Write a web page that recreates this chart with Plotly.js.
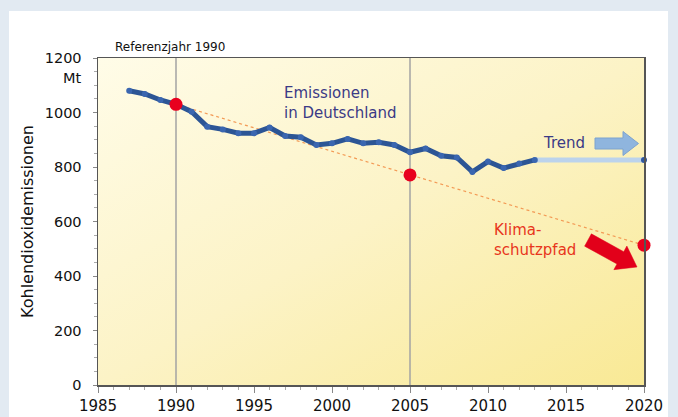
<!DOCTYPE html>
<html>
<head>
<meta charset="utf-8">
<script src="https://cdn.plot.ly/plotly-3.0.1.min.js"></script>
<style>
  html, body { margin: 0; padding: 0; background: #e2eaf2; width: 678px; height: 417px; overflow: hidden; }
  #chart { position: absolute; left: 9px; top: 11px; width: 659px; height: 406px; background: #ffffff; }
</style>
</head>
<body>
<div id="chart"></div>
<script>
// ---- data ----
const years = [1987,1988,1989,1990,1991,1992,1993,1994,1995,1996,1997,1998,1999,2000,2001,2002,2003,2004,2005,2006,2007,2008,2009,2010,2011,2012,2013];
const emissions = [1080,1068,1046,1030,1003,948,938,924,924,945,914,909,881,887,903,887,891,881,854,868,841,835,782,820,796,813,826];
const trendYears = [2013, 2020];
const trendValues = [826, 826];
const pathYears = [1990, 2005, 2020];
const pathValues = [1030, 771, 513];
const refYears = [1990, 2005];
const xTicks = [1985,1990,1995,2000,2005,2010,2015,2020];
const yTicks = [0,200,400,600,800,1000,1200];

// ---- layout geometry (plot area in div pixels) ----
const W = 659, H = 406;
const M = {l: 89, r: 24, t: 47, b: 32};
const PW = W - M.l - M.r, PH = H - M.t - M.b;
const FONT = "DejaVu Sans";
// convert page pixel -> paper coords
const px = x => (x - 9 - M.l) / PW;
const py = y => 1 - (y - 11 - M.t) / PH;

function poly(pts) {
  return 'M' + pts.map(p => px(p[0]) + ',' + py(p[1])).join('L') + 'Z';
}
// Trend arrow (horizontal block arrow)
const trendArrow = poly([[595,138],[623,138],[623,131.5],[638.5,143.5],[623,155.5],[623,149],[595,149]]);
// Red arrow (rotated block arrow)
function blockArrow(x0, y0, x1, y1, bw, hw, hl) {
  const dx = x1 - x0, dy = y1 - y0, L = Math.hypot(dx, dy);
  const ux = dx / L, uy = dy / L, nx = -uy, ny = ux;
  const P = (a, b) => [x0 + ux * a + nx * b, y0 + uy * a + ny * b];
  return poly([P(0,-bw),P(L-hl,-bw),P(L-hl,-hw),P(L,0),P(L-hl,hw),P(L-hl,bw),P(0,bw)]);
}
const redArrow = blockArrow(588, 240, 637, 267, 7, 13.5, 19);

const gradSvg = "<svg xmlns='http://www.w3.org/2000/svg' width='200' height='200' viewBox='0 0 200 200' preserveAspectRatio='none'>" +
  "<defs><linearGradient id='g' x1='0' y1='0' x2='1' y2='1'>" +
  "<stop offset='0' stop-color='#fffce8'/><stop offset='0.5' stop-color='#fcf3c6'/><stop offset='1' stop-color='#f9e995'/>" +
  "</linearGradient></defs><rect width='200' height='200' fill='url(#g)'/></svg>";
const gradUri = 'data:image/svg+xml;charset=utf-8,' + encodeURIComponent(gradSvg);

const traces = [
  { // Klimaschutzpfad dotted line
    x: pathYears, y: pathValues, mode: 'lines', type: 'scatter',
    line: {color: '#f39a55', width: 1.2, dash: 'dot'}, hoverinfo: 'skip', cliponaxis: false
  },
  { // Trend line
    x: trendYears, y: trendValues, mode: 'lines', type: 'scatter',
    line: {color: '#bcd3ec', width: 5}, hoverinfo: 'skip', cliponaxis: false
  },
  { // Trend end dot
    x: trendYears.slice(-1), y: trendValues.slice(-1), mode: 'markers', type: 'scatter',
    marker: {color: '#2f57a0', size: 6}, cliponaxis: false
  },
  { // Emissions
    x: years, y: emissions, mode: 'lines+markers', type: 'scatter',
    line: {color: '#2c5595', width: 5, shape: 'linear'},
    marker: {color: '#3a66b0', size: 6}, cliponaxis: false
  },
  { // Klimaschutzpfad red dots
    x: pathYears, y: pathValues, mode: 'markers', type: 'scatter',
    marker: {color: '#e8001e', size: 13}, cliponaxis: false
  }
];

const shapes = refYears.map(yr => ({
  type: 'line', xref: 'x', yref: 'paper', x0: yr, x1: yr, y0: 0, y1: 1,
  line: {color: '#a3a3a3', width: 1.5}, layer: 'below'
}));
shapes.push({type: 'path', xref: 'paper', yref: 'paper', path: trendArrow,
  fillcolor: '#8fb5de', line: {color: '#7da3cf', width: 1}});
shapes.push({type: 'path', xref: 'paper', yref: 'paper', path: redArrow,
  fillcolor: '#e2001a', line: {color: '#e2001a', width: 0.5}});

const layout = {
  width: W, height: H,
  margin: M,
  paper_bgcolor: '#ffffff',
  plot_bgcolor: 'rgba(0,0,0,0)',
  showlegend: false,
  font: {family: FONT, size: 14, color: '#111111'},
  images: [{source: gradUri, xref: 'paper', yref: 'paper', x: 0, y: 1, sizex: 1, sizey: 1,
    xanchor: 'left', yanchor: 'top', sizing: 'stretch', layer: 'below'}],
  xaxis: {
    range: [1985, 2020], tickvals: xTicks, ticktext: xTicks.map(String),
    ticks: 'outside', ticklen: 6, tickwidth: 1, tickcolor: '#888',
    minor: {dtick: 1, tick0: 1985, ticks: 'outside', ticklen: 3, tickcolor: '#aaa'},
    showline: true, linecolor: '#555', linewidth: 1.5, mirror: true,
    showgrid: false, zeroline: false, fixedrange: true,
    tickfont: {family: FONT, size: 15, color: '#111'}
  },
  yaxis: {
    range: [0, 1200], tickvals: yTicks, ticktext: yTicks.map(String),
    ticks: 'outside', ticklen: 4, tickwidth: 1, tickcolor: '#888',
    minor: {dtick: 50, tick0: 0, ticks: 'outside', ticklen: 3, tickcolor: '#aaa'},
    showline: true, linecolor: '#555', linewidth: 1.5, mirror: true,
    showgrid: false, zeroline: false, fixedrange: true,
    ticklabelstandoff: 8,
    tickfont: {family: FONT, size: 14.5, color: '#111'},
    title: {text: 'Kohlendioxidemissionen', font: {family: FONT, size: 16, color: '#111'}, standoff: 7}
  },
  shapes: shapes,
  annotations: [
    {text: 'Referenzjahr 1990', xref: 'paper', yref: 'paper', x: px(113), y: 1, xanchor: 'left', yanchor: 'bottom',
     yshift: 2, showarrow: false, font: {family: FONT, size: 12, color: '#111'}},
    {text: 'Mt', xref: 'paper', yref: 'y', x: 0, y: 1128, xanchor: 'right', yanchor: 'middle', xshift: -14,
     showarrow: false, font: {family: FONT, size: 14.5, color: '#111'}},
    {text: 'Emissionen<br>in Deutschland', xref: 'paper', yref: 'paper', x: px(282), y: py(82), xanchor: 'left', yanchor: 'top',
     align: 'left', showarrow: false, font: {family: FONT, size: 15, color: '#3b3a86'}},
    {text: 'Trend', xref: 'paper', yref: 'paper', x: px(541), y: py(143), xanchor: 'left', yanchor: 'middle',
     showarrow: false, font: {family: FONT, size: 15, color: '#3b3a86'}},
    {text: 'Klima-<br>schutzpfad', xref: 'paper', yref: 'paper', x: px(492), y: py(219), xanchor: 'left', yanchor: 'top',
     align: 'left', showarrow: false, font: {family: FONT, size: 15, color: '#e8361c'}}
  ]
};

Plotly.newPlot('chart', traces, layout, {displayModeBar: false, staticPlot: true});
</script>
</body>
</html>
